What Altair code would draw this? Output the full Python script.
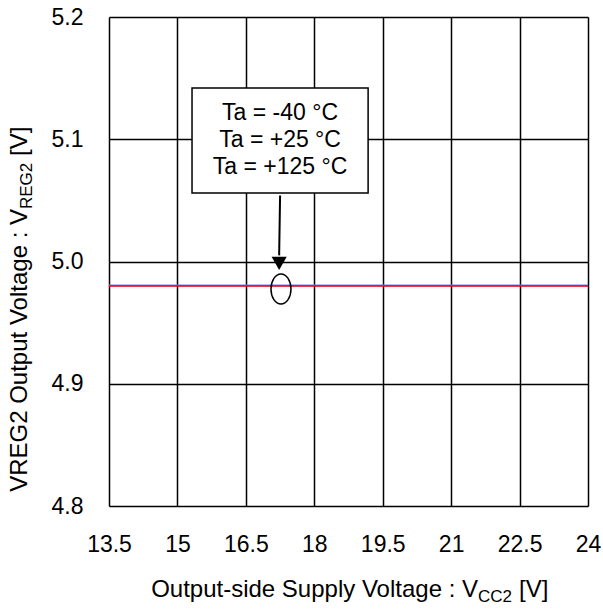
import altair as alt
import pandas as pd

# ---------------- data ----------------
vcc2 = [13.5, 15, 16.5, 18, 19.5, 21, 22.5, 24]
vreg_m40 = [4.9805, 4.9805, 4.9805, 4.9805, 4.9805, 4.9805, 4.9805, 4.9805]
vreg_125 = [4.980, 4.980, 4.980, 4.980, 4.980, 4.980, 4.980, 4.980]
series_names = ["Ta = -40 °C", "Ta = +125 °C"]
series_colors = ["#7a7aff", "#ee0010"]

x_ticks = [13.5, 15, 16.5, 18, 19.5, 21, 22.5, 24]
y_ticks = [4.8, 4.9, 5.0, 5.1, 5.2]

legend_lines = ["Ta = -40 °C", "Ta = +25 °C", "Ta = +125 °C"]
legend_line_y = [5.1215, 5.0995, 5.0774]
box = {"x": 15.32, "x2": 19.18, "y": 5.142, "y2": 5.056}
arrow = {"x": 17.25, "y": 5.054, "x2": 17.23, "y2": 5.005}
arrow_head = {"x": 17.23, "y": 4.9985}
ellipse_c = {"x": 17.27, "y": 4.9775}

FONT = "Liberation Sans"
FS = 23
TFS = 24
W, H = 479, 489

rows = []
for name, vals in zip(series_names, [vreg_m40, vreg_125]):
    for xv, yv in zip(vcc2, vals):
        rows.append({"vcc2": xv, "vreg": yv, "series": name})
df = pd.DataFrame(rows)

xscale = alt.Scale(domain=[13.5, 24], nice=False, zero=False)
yscale = alt.Scale(domain=[4.8, 5.2], nice=False, zero=False)

xaxis = alt.Axis(values=x_ticks, labelExpr="format(datum.value, '~g')", title=None,
                 grid=True, gridColor="black", gridWidth=1.5, gridOpacity=1,
                 tickSize=0, domain=False, labelFont=FONT, labelFontSize=FS,
                 labelColor="black", labelPadding=27, labelFlush=False, labelOverlap=False)
yaxis = alt.Axis(values=y_ticks, format=".1f", title=None,
                 grid=True, gridColor="black", gridWidth=1.5, gridOpacity=1,
                 tickSize=0, domain=False, labelFont=FONT, labelFontSize=FS,
                 labelColor="black", labelPadding=26, labelFlush=False, labelOverlap=False)

lines = alt.Chart(df).mark_line(strokeWidth=1.6, clip=True).encode(
    x=alt.X("vcc2:Q", scale=xscale, axis=xaxis),
    y=alt.Y("vreg:Q", scale=yscale, axis=yaxis),
    color=alt.Color("series:N", scale=alt.Scale(domain=series_names, range=series_colors), legend=None),
    order=alt.Order("vcc2:Q"),
    detail="series:N",
)

box_df = pd.DataFrame([box])
box_mark = alt.Chart(box_df).mark_rect(fill="white", stroke="black", strokeWidth=1.5).encode(
    x=alt.X("x:Q", scale=xscale), x2="x2:Q", y=alt.Y("y:Q", scale=yscale), y2="y2:Q")

leg_df = pd.DataFrame({"t": legend_lines, "y": legend_line_y, "x": [17.25] * 3})
leg_text = alt.Chart(leg_df).mark_text(font=FONT, fontSize=FS, color="black", align="center", baseline="middle").encode(
    x=alt.X("x:Q", scale=xscale), y=alt.Y("y:Q", scale=yscale), text="t:N")

arr_df = pd.DataFrame([arrow])
arr_rule = alt.Chart(arr_df).mark_rule(color="black", strokeWidth=2).encode(
    x=alt.X("x:Q", scale=xscale), y=alt.Y("y:Q", scale=yscale), x2="x2:Q", y2="y2:Q")

head_df = pd.DataFrame([arrow_head])
head = alt.Chart(head_df).mark_point(shape="triangle-down", filled=True, color="black", size=230, opacity=1).encode(
    x=alt.X("x:Q", scale=xscale), y=alt.Y("y:Q", scale=yscale))

ell_df = pd.DataFrame([ellipse_c])
ell = alt.Chart(ell_df).mark_point(
    shape="M0,-1 A0.667,1 0 1,1 0,1 A0.667,1 0 1,1 0,-1 Z",
    filled=False, stroke="black", strokeWidth=1.5, size=900, opacity=1).encode(
    x=alt.X("x:Q", scale=xscale), y=alt.Y("y:Q", scale=yscale))

# axis titles with subscripts
t_df = pd.DataFrame({"a": [0]})
def txt(text, x, y, size=TFS, align="left", angle=0, dy=0, baseline="alphabetic"):
    kw = dict(text=text, font=FONT, fontSize=size, color="black", align=align, baseline=baseline, dy=dy)
    if angle:
        kw["angle"] = angle
    return alt.Chart(t_df).mark_text(**kw).encode(x=alt.value(x), y=alt.value(y))

# x title (pixel coords relative to plot area)
xt_y = 580
xt_anchor = 41 + 328
x_title = (txt("Output-side Supply Voltage : V", xt_anchor, xt_y, align="right")
           + txt("CC2", xt_anchor, xt_y, size=17, align="left", dy=5)
           + txt("[V]", xt_anchor + 34 + 7, xt_y, align="left"))

# y title (rotated)
yt_x = -82
yt_anchor = 192
y_title = (txt("VREG2 Output Voltage : V", yt_x, yt_anchor, align="right", angle=270)
           + txt("REG2", yt_x, yt_anchor, size=17, align="left", angle=270, dy=5)
           + txt("[V]", yt_x, yt_anchor - 46 - 7, align="left", angle=270))

chart = alt.layer(lines, box_mark, leg_text, arr_rule, head, ell, x_title, y_title).properties(
    width=W, height=H,
    autosize=alt.AutoSizeParams(type="none"),
    padding={"left": 109, "top": 17, "right": 15, "bottom": 104},
).configure_view(stroke="black", strokeWidth=1.5).configure(background="white")

chart.save("out.html", embed_options={"renderer": "svg", "actions": False})
